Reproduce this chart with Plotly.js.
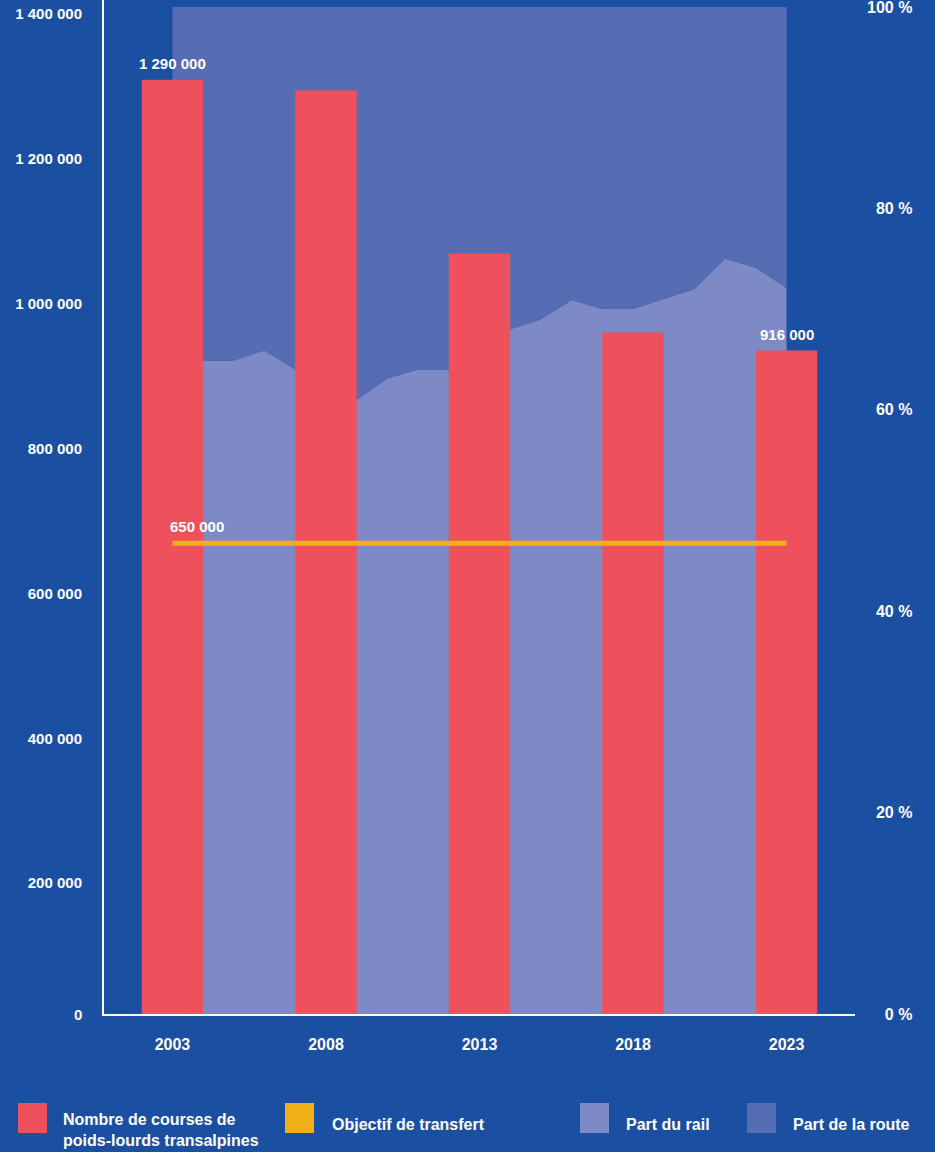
<!DOCTYPE html>
<html>
<head>
<meta charset="utf-8">
<script src="https://cdn.plot.ly/plotly-3.0.1.min.js"></script>
<style>
  html, body { margin: 0; padding: 0; background: #1a4fa1; }
  #chart { width: 935px; height: 1152px; }
</style>
</head>
<body>
<div id="chart"></div>
<script>
// ---- data ----
const barYears = [2003, 2008, 2013, 2018, 2023];
const trucks = [1290000, 1275000, 1050000, 941000, 916000];
const truckLabels = ['1 290 000', '', '', '', '916 000'];

const shareYears = [2003, 2004, 2005, 2006, 2007, 2008, 2009, 2010, 2011, 2012, 2013,
                    2014, 2015, 2016, 2017, 2018, 2019, 2020, 2021, 2022, 2023];
const railShare = [65.0, 64.9, 64.9, 65.9, 64.0, 63.5, 61.0, 63.1, 64.0, 64.0, 66.0,
                   68.0, 69.0, 70.9, 70.0, 70.0, 71.0, 72.0, 75.0, 74.1, 72.1];
const roadShare = [35.0, 35.1, 35.1, 34.1, 36.0, 36.5, 39.0, 36.9, 36.0, 36.0, 34.0,
                   32.0, 31.0, 29.1, 30.0, 30.0, 29.0, 28.0, 25.0, 25.9, 27.9];

const targetYears = [2003, 2023];
const targetValues = [650000, 650000];
const targetLabel = '650 000';

const leftTickVals = [200000, 400000, 600000, 800000, 1000000, 1200000, 1400000];
const leftTickText = ['200 000', '400 000', '600 000', '800 000', '1 000 000', '1 200 000', '1 400 000'];
const rightTickVals = [0, 20, 40, 60, 80, 100];
// non-breaking spaces pad the shorter labels so they line up on the right
const rightTickText = ['\u00A0\u00A0\u00A0\u00A00 %', '\u00A0\u00A020 %', '\u00A0\u00A040 %',
                       '\u00A0\u00A060 %', '\u00A0\u00A080 %', '100 %'];
const xTickText = ['2003', '2008', '2013', '2018', '2023'];

const legendNames = ['Nombre de courses de<br>poids-lourds transalpines', 'Objectif de transfert', 'Part du rail', 'Part de la route'];

// ---- styles ----
const BG = '#1a4fa1';
const RED = '#ee515b';
const YELLOW = '#f1b116';
const RAIL = '#7e8ac5';
const ROAD = '#566db4';
const FONT = 'Liberation Sans, Arial, Helvetica, sans-serif';
const tf = {family: FONT, size: 15, color: '#ffffff', weight: 'bold'};
const tf16 = {family: FONT, size: 16, color: '#ffffff', weight: 'bold'};
const lf = {family: FONT, size: 16, color: '#ffffff', weight: 'bold'};

// layout geometry (pixels)
const W = 935, H = 1152;
const M = {l: 104, r: 19, t: 0, b: 138};
const PW = W - M.l - M.r, PH = H - M.t - M.b;
const px = x => (x - M.l) / PW;
const py = y => (H - M.b - y) / PH;

const traces = [
  {type: 'scatter', mode: 'none', x: shareYears, y: railShare, stackgroup: 'share',
   fillcolor: RAIL, line: {width: 0}, xaxis: 'x', yaxis: 'y', name: 'Part du rail', hoverinfo: 'skip'},
  {type: 'scatter', mode: 'none', x: shareYears, y: roadShare, stackgroup: 'share',
   fillcolor: ROAD, line: {width: 0}, xaxis: 'x', yaxis: 'y', name: 'Part de la route', hoverinfo: 'skip'},
  {type: 'bar', x: barYears, y: trucks, width: 2, marker: {color: RED, line: {width: 0}},
   xaxis: 'x', yaxis: 'y2', name: 'Nombre de courses', hoverinfo: 'skip'},
  {type: 'scatter', mode: 'lines', x: targetYears, y: targetValues,
   line: {color: YELLOW, width: 5}, xaxis: 'x', yaxis: 'y2', name: 'Objectif de transfert', hoverinfo: 'skip'}
];

const swatchColors = [RED, YELLOW, RAIL, ROAD];
const swatchX = [18, 285, 580, 747];
const textX = [61, 330, 624, 791];

const shapes = swatchColors.map((c, i) => ({
  type: 'rect', xref: 'paper', yref: 'paper',
  x0: px(swatchX[i]), x1: px(swatchX[i] + 29), y0: py(1133), y1: py(1103),
  fillcolor: c, line: {width: 0}
}));

const annotations = legendNames.map((t, i) => (i === 0 ? {
  xref: 'paper', yref: 'paper', x: px(textX[i]), y: py(1151),
  xanchor: 'left', yanchor: 'bottom', align: 'left', showarrow: false,
  text: t, font: lf
} : {
  xref: 'paper', yref: 'paper', x: px(textX[i]), y: py(1114),
  xanchor: 'left', yanchor: 'top', align: 'left', showarrow: false,
  text: t, font: lf
}));
barYears.forEach((yr, i) => {
  if (truckLabels[i]) {
    annotations.push({
      xref: 'x', yref: 'y2', x: yr, y: trucks[i],
      xanchor: 'center', yanchor: 'bottom', yshift: 6, showarrow: false,
      text: truckLabels[i], font: tf
    });
  }
});
annotations.push({
  xref: 'x', yref: 'y2', x: targetYears[0], y: targetValues[0],
  xanchor: 'left', yanchor: 'bottom', yshift: 6, xshift: -4, showarrow: false,
  text: targetLabel, font: tf
});
annotations.push({
  xref: 'paper', yref: 'y2', x: px(84), y: 0, xanchor: 'right', yanchor: 'middle',
  showarrow: false, text: '0', font: tf
});

const layout = {
  width: W, height: H,
  margin: M,
  paper_bgcolor: BG, plot_bgcolor: 'rgba(0,0,0,0)',
  showlegend: false,
  font: tf,
  xaxis: {
    domain: [0, (855 - M.l) / PW],
    range: [2000.77, 2025.23],
    tickvals: barYears, ticktext: xTickText,
    showgrid: false, zeroline: false,
    showline: true, linecolor: '#ffffff', linewidth: 2,
    ticks: '', ticklabelstandoff: 15,
    tickfont: tf16, fixedrange: true
  },
  yaxis: {
    range: [0, 100 * PH / (PH - 7)],
    side: 'right', anchor: 'x',
    tickvals: rightTickVals, ticktext: rightTickText,
    showgrid: false, zeroline: false, showline: false, ticks: '',
    ticklabelstandoff: 11, ticklabeloverflow: 'allow',
    tickfont: tf16, fixedrange: true
  },
  yaxis2: {
    overlaying: 'y', side: 'left', anchor: 'x',
    range: [0, 1400001],
    tickvals: leftTickVals, ticktext: leftTickText,
    showgrid: false, zeroline: false,
    showline: true, linecolor: '#ffffff', linewidth: 2,
    ticks: '', ticklabelstandoff: 17, ticklabelshift: 14, ticklabeloverflow: 'allow',
    tickfont: tf, fixedrange: true
  },
  shapes: shapes,
  annotations: annotations
};

Plotly.newPlot('chart', traces, layout, {staticPlot: true, displayModeBar: false});
</script>
</body>
</html>
